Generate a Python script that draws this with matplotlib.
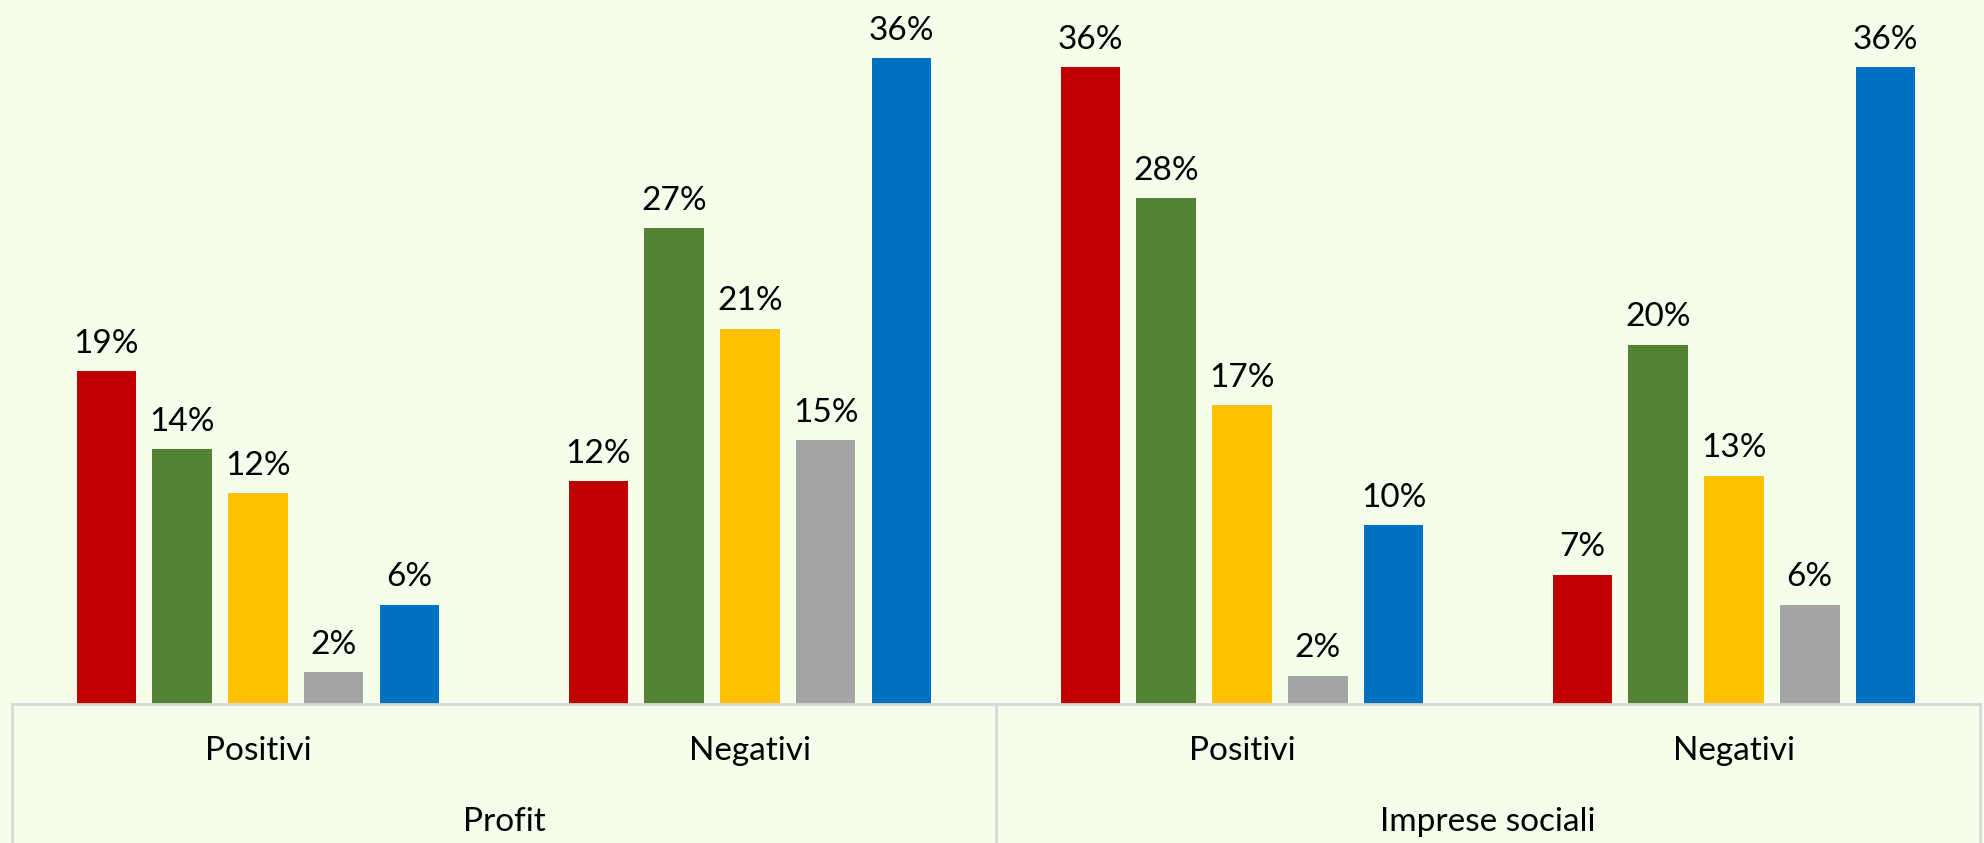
import numpy as np
import matplotlib.pyplot as plt
import matplotlib.transforms as mtransforms

# dati (percentuali)
gruppi = ["Profit", "Imprese sociali"]
giudizi = ["Positivi", "Negativi", "Positivi", "Negativi"]
colori = ["#C00000", "#548235", "#FFC000", "#A5A5A5", "#0070C0"]

serie_1 = [18.8, 12.6, 36.0, 7.3]
serie_2 = [14.4, 26.9, 28.6, 20.3]
serie_3 = [11.9, 21.2, 16.9, 12.9]
serie_4 = [1.8, 14.9, 1.6, 5.6]
serie_5 = [5.6, 36.5, 10.1, 36.0]

etich_1 = ["19%", "12%", "36%", "7%"]
etich_2 = ["14%", "27%", "28%", "20%"]
etich_3 = ["12%", "21%", "17%", "13%"]
etich_4 = ["2%", "15%", "2%", "6%"]
etich_5 = ["6%", "36%", "10%", "36%"]

serie = [serie_1, serie_2, serie_3, serie_4, serie_5]
etichette = [etich_1, etich_2, etich_3, etich_4, etich_5]

sfondo = "#F5FDEB"
grigio = "#D9D9D9"
plt.rcParams['font.family'] = ['Lato', 'DejaVu Sans']

fig = plt.figure(figsize=(19.84, 8.43), dpi=100, facecolor=sfondo)
ax = fig.add_axes([0.006, 0.165, 0.992, 0.835])
ax.set_facecolor(sfondo)

x = np.arange(len(giudizi))
passo = 0.154
larg = 0.121
for i, (valori, et) in enumerate(zip(serie, etichette)):
    pos = x + (i - 2) * passo
    barre = ax.bar(pos, valori, width=larg, color=colori[i], zorder=2)
    ax.bar_label(barre, labels=et, padding=9, fontsize=24, color="black")

ax.set_xlim(-0.5, len(giudizi) - 0.5)
ax.set_ylim(0, 39.8)
ax.set_yticks([])
ax.set_xticks(x)
ax.set_xticklabels(giudizi, fontsize=24)
ax.tick_params(axis='x', length=0, pad=23)
for s in ['top', 'right', 'left']:
    ax.spines[s].set_visible(False)
ax.spines['bottom'].set_color(grigio)
ax.spines['bottom'].set_linewidth(2)

# asse a due livelli
tr = mtransforms.blended_transform_factory(ax.transData, ax.transAxes)
for xv in [-0.5, 1.5, 3.5]:
    ax.plot([xv, xv], [0, -0.25], color=grigio, lw=2, transform=tr, clip_on=False)
for j, g in enumerate(gruppi):
    ax.text(2 * j + 0.5, -0.168, g, transform=tr, ha='center', va='center', fontsize=24)

fig.savefig("out.png", dpi=100, facecolor=sfondo)
